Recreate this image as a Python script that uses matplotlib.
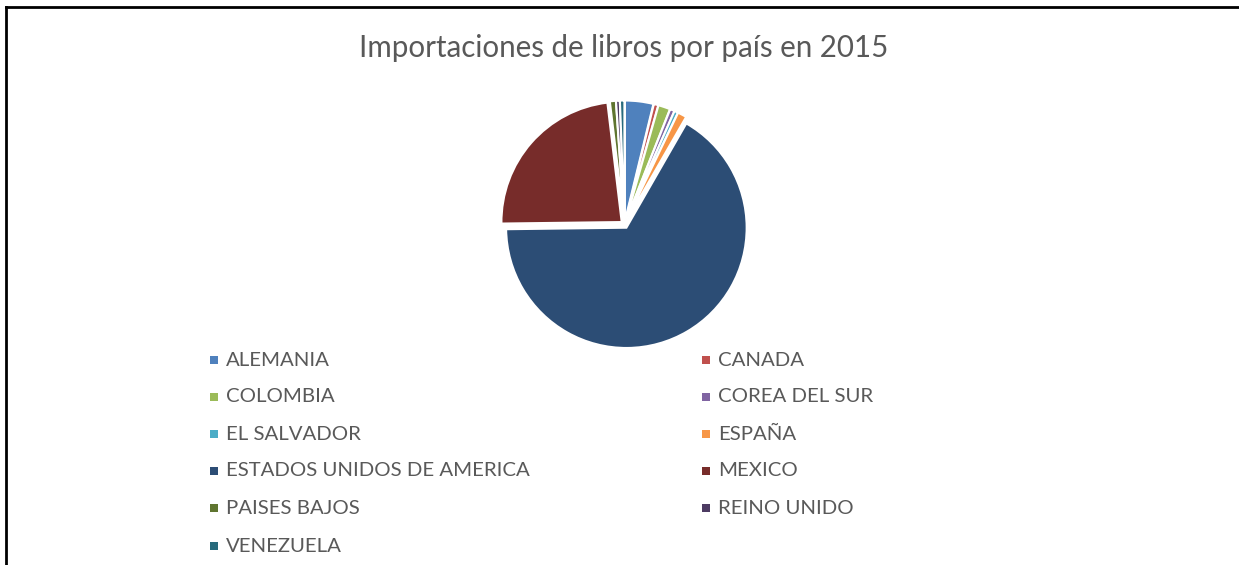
import matplotlib
matplotlib.use("Agg")
import matplotlib.pyplot as plt
from matplotlib.patches import Rectangle
from matplotlib.lines import Line2D

title = "Importaciones de libros por país en 2015"
countries = ["ALEMANIA", "CANADA", "COLOMBIA", "COREA DEL SUR", "EL SALVADOR",
             "ESPAÑA", "ESTADOS UNIDOS DE AMERICA", "MEXICO", "PAISES BAJOS",
             "REINO UNIDO", "VENEZUELA"]
shares = [3.8, 0.6, 1.6, 0.6, 0.5, 1.2, 66.5, 23.3, 0.8, 0.5, 0.6]
colors = ["#4F81BD", "#C0504D", "#9BBB59", "#8064A2", "#4BACC6", "#F79646",
          "#2C4D75", "#772C2A", "#5F7530", "#4D3B62", "#276A7C"]

W, H = 1239, 565
fig = plt.figure(figsize=(W / 100, H / 100), dpi=100)
fig.patch.set_facecolor("white")

FONT = ["Lato", "DejaVu Sans"]
GRAY = "#595959"

# border lines (top and left)
fig.add_artist(Line2D([6 / W, 1], [1 - 7 / H, 1 - 7 / H], transform=fig.transFigure,
                      color="black", lw=2))
fig.add_artist(Line2D([6 / W, 6 / W], [1 - 7 / H, 0], transform=fig.transFigure,
                      color="black", lw=2))

# pie
cx, cy, r = 624.5, 224.5, 124.0
ax = fig.add_axes([(cx - r) / W, 1 - (cy + r) / H, 2 * r / W, 2 * r / H])
ax.pie(shares, colors=colors, startangle=90, counterclock=False,
       explode=[0.03] * len(shares), radius=0.97,
       wedgeprops=dict(edgecolor="white", linewidth=1.5))
ax.set_xlim(-1, 1)
ax.set_ylim(-1, 1)
ax.axis("off")

renderer = fig.canvas.get_renderer()

def fit_text(x, y, s, target_w, base=14, **kw):
    t = fig.text(x, y, s, fontsize=base, family=FONT, color=GRAY, **kw)
    w = t.get_window_extent(renderer=renderer).width
    t.set_fontsize(base * target_w / w)
    return t

# title
fit_text(624 / W, 1 - 48 / H, title, 528, base=18, ha="center", va="center")

# legend
rows_y = [360, 397, 434, 471, 508, 546]
col_marker_x = [210, 702]
col_text_x = [226, 718]
ref = None
for i, (name, col) in enumerate(zip(countries, colors)):
    c = i % 2
    rr = i // 2
    y = rows_y[rr]
    fig.add_artist(Rectangle(((col_marker_x[c]) / W, 1 - (y + 4) / H), 8 / W, 8 / H,
                             transform=fig.transFigure, facecolor=col, edgecolor="none"))
    t = fig.text(col_text_x[c] / W, 1 - y / H, name, fontsize=14, family=FONT,
                 color=GRAY, ha="left", va="center")
    if name == "ESTADOS UNIDOS DE AMERICA":
        ref = t
scale = 303 / ref.get_window_extent(renderer=renderer).width
for t in fig.texts[1:]:
    t.set_fontsize(14 * scale)

fig.savefig("out.png", dpi=100, facecolor="white")
